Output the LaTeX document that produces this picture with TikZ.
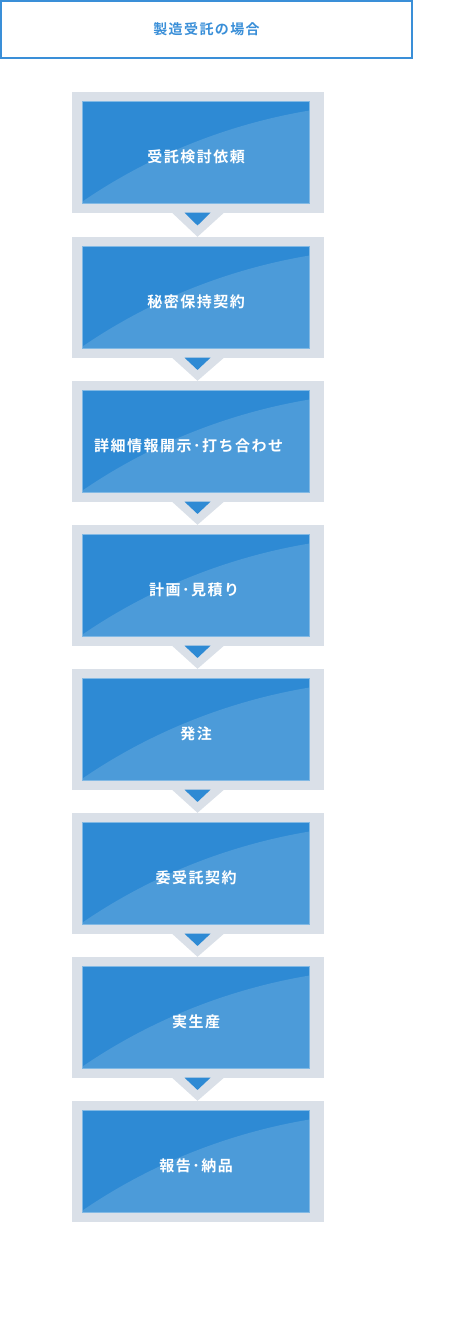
\documentclass[tikz,border=0pt]{standalone}
\usepackage{fontspec}
\newfontfamily\jpbold{Noto Sans CJK JP Bold}[LetterSpace=10]
\usetikzlibrary{calc}
\definecolor{framegray}{HTML}{DAE0E8}
\definecolor{stepblue}{HTML}{2E8AD4}
\definecolor{steplight}{HTML}{4C9BD9}
\definecolor{titleblue}{HTML}{3A8FD8}

\begin{document}
\begin{tikzpicture}[x=1pt,y=-1pt,
  frame/.style={fill=framegray,minimum width=252pt,minimum height=121pt,inner sep=0pt},
  stepbox/.style={fill=stepblue,draw=steplight!70!white,line width=1pt,minimum width=227pt,minimum height=102pt,inner sep=0pt,
    path picture={\fill[steplight] ($(path picture bounding box.north west)+(0,100)$) .. controls +(70,-48) and +(-78,13) .. ($(path picture bounding box.north east)+(0,9)$) |- (path picture bounding box.south west) -- cycle;}},
  steptext/.style={text=white,font=\jpbold\fontsize{15}{18}\selectfont,inner sep=0pt}]
\useasboundingbox (0,0) rectangle (471,1335);
% title
\node[draw=titleblue,line width=2pt,minimum width=411pt,minimum height=57pt,text=titleblue,font=\jpbold\fontsize{14}{18}\selectfont] (title) at (206.5,29.5) {製造受託の場合};
% steps
\foreach \i/\y/\dx/\txt in {1/92/0/受託検討依頼,2/237/0/秘密保持契約,3/381/-7.5/詳細情報開示･打ち合わせ,4/525/-2/計画･見積り,5/669/0/発注,6/813/0/委受託契約,7/957/0/実生産,8/1101/0/報告･納品}{
  \node[frame] (f\i) at (198,\y+60.5) {};
  \node[stepbox] (b\i) at ($(f\i)+(-2,0)$) {};
  \node[steptext] (t\i) at ($(b\i)+(\dx,4)$) {\txt};
}
% pointers
\foreach \i [evaluate=\i as \j using int(\i+1)] in {1,...,7}{
  \fill[framegray] ($(f\i.south)+(-26,-0.5)$) -- ($(f\i.south)+(26,-0.5)$) -- ($(f\j.north)+(-0.5,0)$) -- cycle;
  \fill[stepblue] ($(f\i.south)+(-13.5,-0.5)$) -- ($(f\i.south)+(12.5,-0.5)$) -- ($(f\i.south)!.52!(f\j.north)+(-0.5,0)$) -- cycle;
}
\end{tikzpicture}
\end{document}
